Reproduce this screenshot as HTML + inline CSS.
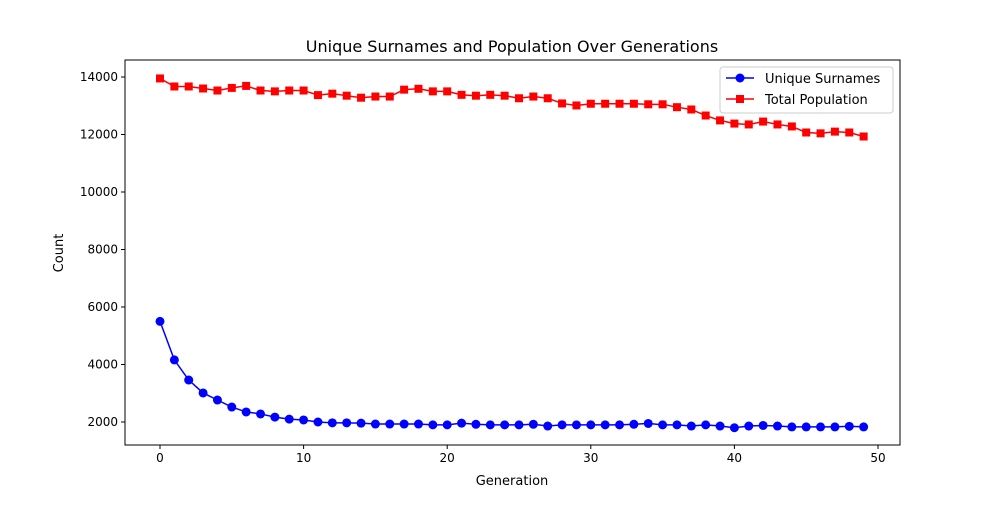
<!DOCTYPE html>
<html><head><meta charset="utf-8"><style>
body{margin:0;background:#fff;font-family:"Liberation Sans","DejaVu Sans",sans-serif}
</style></head><body>
<svg width="1000" height="500" xmlns="http://www.w3.org/2000/svg" style="font-family:'DejaVu Sans','Liberation Sans',sans-serif">
<rect width="1000" height="500" fill="#fff"/>
<g id="plot"></g>
</svg>
<script>
const generations=[...Array(50).keys()];
const surnames=[5500,4160,3460,3010,2765,2520,2350,2280,2170,2100,2070,2000,1970,1970,1960,1930,1930,1930,1930,1900,1900,1960,1920,1900,1900,1900,1920,1860,1900,1900,1900,1900,1900,1920,1950,1900,1900,1860,1900,1860,1800,1860,1880,1860,1830,1830,1830,1830,1850,1830];
const population=[13950,13670,13670,13600,13530,13620,13690,13530,13500,13530,13530,13370,13420,13350,13280,13320,13320,13560,13590,13500,13500,13380,13350,13380,13350,13260,13320,13260,13080,13010,13070,13070,13070,13070,13050,13050,12950,12870,12660,12490,12380,12350,12450,12350,12280,12070,12040,12100,12070,11930];
const yTicks=[2000,4000,6000,8000,10000,12000,14000];
const xTicks=[0,10,20,30,40,50];
const L=125,R=900,T=60,B=445;
const xs=g=>160+g*14.36;
const ys=v=>422-(v-2000)*0.02875;
const NS="http://www.w3.org/2000/svg";
const plot=document.getElementById('plot');
function mk(t,a,p){const e=document.createElementNS(NS,t);for(const k in a)e.setAttribute(k,a[k]);(p||plot).appendChild(e);return e;}
const fr=mk('rect',{x:L,y:T,width:R-L,height:B-T,fill:'none',stroke:'#000','stroke-width':1});


yTicks.forEach(v=>{const y=ys(v);mk('line',{x1:L-4,x2:L,y1:y,y2:y,stroke:'#000'});
const t=mk('text',{x:L-7,y:y+4,'text-anchor':'end','font-size':12});t.textContent=v;

});
xTicks.forEach(v=>{const x=xs(v);mk('line',{x1:x,x2:x,y1:B,y2:B+4,stroke:'#000'});
const t=mk('text',{x:x,y:B+17,'text-anchor':'middle','font-size':12});t.textContent=v;

});
const title=mk('text',{x:512,y:52,'text-anchor':'middle','font-size':16});title.textContent='Unique Surnames and Population Over Generations';


const xl=mk('text',{x:512,y:485,'text-anchor':'middle','font-size':13});xl.textContent='Generation';


const yl=mk('text',{x:63,y:253,'text-anchor':'middle','font-size':13,transform:'rotate(-90 63 253)'});yl.textContent='Count';


function series(vals,color,sq,name){
const pl=mk('polyline',{points:vals.map((v,i)=>xs(generations[i])+','+ys(v)).join(' '),fill:'none',stroke:color,'stroke-width':1.5});


vals.forEach((v,i)=>{const x=xs(generations[i]),y=ys(v);let m;
if(sq)m=mk('rect',{x:x-4,y:y-4,width:8,height:8,fill:color});else m=mk('circle',{cx:x,cy:y,r:4.5,fill:color});

});}
series(surnames,'#0000ff',false,'unique-surnames');
series(population,'#ff0000',true,'total-population');
const lg=mk('g',{});


mk('rect',{x:720,y:67,width:173,height:46,rx:3,fill:'#fff',stroke:'#ccc'},lg);
mk('line',{x1:726,x2:754,y1:78,y2:78,stroke:'#0000ff','stroke-width':1.5},lg);
mk('circle',{cx:740,cy:78,r:4.5,fill:'#0000ff'},lg);
const t1=mk('text',{x:765,y:83,'font-size':13},lg);t1.textContent='Unique Surnames';


mk('line',{x1:726,x2:754,y1:99,y2:99,stroke:'#ff0000','stroke-width':1.5},lg);
mk('rect',{x:736,y:95,width:8,height:8,fill:'#ff0000'},lg);
const t2=mk('text',{x:765,y:104,'font-size':13},lg);t2.textContent='Total Population';


</script>
</body></html>
